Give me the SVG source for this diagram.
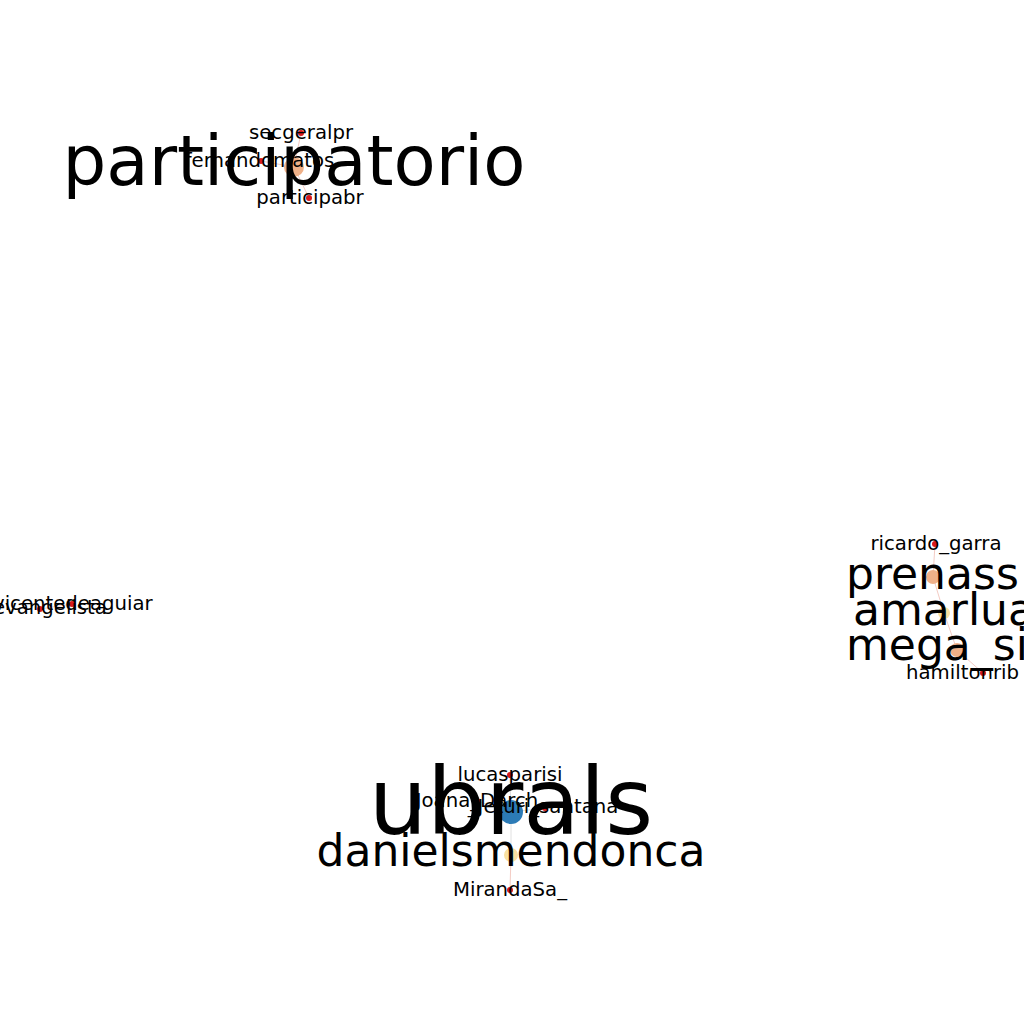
<svg xmlns="http://www.w3.org/2000/svg" width="1024" height="1024" viewBox="0 0 1024 1024">
<style>
text{font-family:"DejaVu Sans",sans-serif;fill:#000;text-anchor:middle}
.s{font-size:19.7px}
.m{font-size:44px}
.st{text-anchor:start}
.red{fill:#d7191c}
.peach{fill:#efb088}
.yel{fill:#f9e0a0}
.blue{fill:#2c7bb6}
.e{stroke:#f4ccc4;stroke-width:1;fill:none}
.g{stroke:#e0e0e0;stroke-width:1;fill:none}
</style>
<rect width="1024" height="1024" fill="#fff"/>
<g id="connectors">
<line class="e" x1="294" y1="167" x2="301" y2="133"/>
<line class="e" x1="294" y1="167" x2="261" y2="161"/>
<line class="e" x1="294" y1="167" x2="309" y2="198"/>
<line class="e" x1="935" y1="544" x2="933" y2="577"/>
<line class="e" x1="933" y1="577" x2="944" y2="613"/>
<line class="e" x1="944" y1="613" x2="957" y2="650"/>
<line class="e" x1="957" y1="650" x2="983" y2="673"/>
<line class="e" x1="40" y1="609" x2="72" y2="604"/>
<line class="g" x1="510" y1="775" x2="511" y2="812"/>
<line class="g" x1="511" y1="812" x2="511" y2="855"/>
<line class="g" x1="511" y1="812" x2="545" y2="808"/>
<line class="g" x1="511" y1="812" x2="477" y2="801"/>
<line class="e" x1="511" y1="855" x2="510" y2="890"/>
</g>
<g id="n-participatorio"><circle class="peach" cx="294" cy="167" r="10"/></g>
<g id="n-secgeralpr"><circle class="red" cx="301" cy="133" r="3"/></g>
<g id="n-fernandomatos"><circle class="red" cx="261" cy="161" r="3"/></g>
<g id="n-participabr"><circle class="red" cx="309" cy="198" r="3"/></g>
<g id="n-ricardo_garra"><circle class="red" cx="935" cy="544" r="3"/></g>
<g id="n-prenass"><circle class="peach" cx="933" cy="577" r="7"/></g>
<g id="n-amarlua"><circle class="yel" cx="944" cy="613" r="6"/></g>
<g id="n-mega_si"><circle class="peach" cx="957" cy="650" r="7"/></g>
<g id="n-hamiltonrib"><circle class="red" cx="983" cy="673" r="3"/></g>
<g id="n-vicentedeaguiar"><circle class="red" cx="72" cy="604" r="3"/></g>
<g id="n-evangelista"><circle class="red" cx="40" cy="609" r="3"/></g>
<g id="n-lucasparisi"><circle class="red" cx="510" cy="775" r="3"/></g>
<g id="n-Joana_Darch"><circle class="red" cx="477" cy="801" r="3"/></g>
<g id="n-ubrals"><circle class="blue" cx="511" cy="812" r="12"/></g>
<g id="n-Jeturi_santana"><circle class="red" cx="545" cy="808" r="3"/></g>
<g id="n-danielsmendonca"><circle class="yel" cx="511" cy="855" r="7"/></g>
<g id="n-MirandaSa_"><circle class="red" cx="510" cy="890" r="3"/></g>
<g id="labels">
<text x="294" y="185" style="font-size:69px">participatorio</text>
<text class="s" x="301" y="139">secgeralpr</text>
<text class="s" x="259.5" y="167">fernandomatos</text>
<text class="s" x="310" y="204">participabr</text>
<text class="s" x="936" y="550">ricardo_garra</text>
<text class="m st" x="846" y="589">prenass</text>
<text class="m st" x="853" y="625">amarlua</text>
<text class="m st" x="846" y="660">mega_si</text>
<text class="s st" x="906" y="679">hamiltonrib</text>
<text class="s st" x="-7" y="610">vicentedeaguiar</text>
<text class="s st" x="-7" y="614">evangelista</text>
<text x="511" y="834" style="font-size:92px">ubrals</text>
<text class="s" x="510" y="781">lucasparisi</text>
<text class="s" x="477" y="807">Joana_Darch</text>
<text class="s" x="543" y="813">_Jeturi_santana</text>
<text class="m" x="511" y="866">danielsmendonca</text>
<text class="s" x="510" y="896">MirandaSa_</text>
</g>
</svg>
